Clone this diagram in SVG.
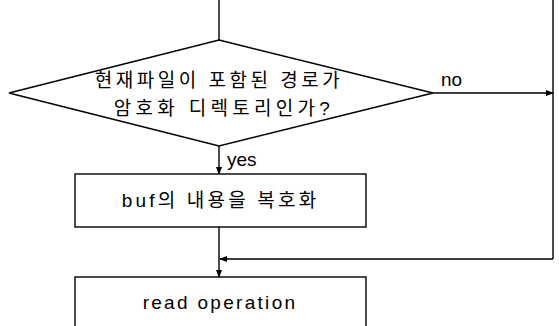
<svg xmlns="http://www.w3.org/2000/svg" width="559" height="326" viewBox="0 0 559 326">
<defs>
<marker id="ah" markerWidth="8" markerHeight="8" refX="7" refY="4" orient="auto" markerUnits="userSpaceOnUse">
<path d="M0,1 L8,4 L0,7 Z" fill="#000"/>
</marker>
<style>
.ln{stroke:#000;stroke-width:1.4;fill:none}
.sh{stroke:#000;stroke-width:1.4;fill:#fff}
.t{font-family:"Liberation Sans","Noto Sans CJK KR",sans-serif;font-size:19px;fill:#000}
</style>
</defs>
<rect width="559" height="326" fill="#fff"/>
<g id="connectors">
<line class="ln" x1="219" y1="0" x2="219" y2="40"/>
<line class="ln" x1="219" y1="146" x2="219" y2="174" marker-end="url(#ah)"/>
<line class="ln" x1="433" y1="93" x2="553" y2="93" marker-end="url(#ah)"/>
<line class="ln" x1="553" y1="0" x2="553" y2="259"/>
<line class="ln" x1="553" y1="259" x2="220" y2="259" marker-end="url(#ah)"/>
<line class="ln" x1="219" y1="227" x2="219" y2="277" marker-end="url(#ah)"/>
<text class="t" x="441" y="86">no</text>
<text class="t" x="227" y="166">yes</text>
</g>
<g id="decision">
<polygon class="sh" points="219,40 433,93 219,146 9,93"/>
<text class="t" x="219" y="87" text-anchor="middle" letter-spacing="3.5">현재파일이 포함된 경로가</text>
<text class="t" x="224" y="115" text-anchor="middle" letter-spacing="4.3">암호화 디렉토리인가?</text>
</g>
<g id="decrypt">
<rect class="sh" x="75" y="174" width="291" height="53"/>
<text class="t" x="220.5" y="207" text-anchor="middle" letter-spacing="3.2">buf의 내용을 복호화</text>
</g>
<g id="read">
<rect class="sh" x="75" y="277" width="291" height="60"/>
<text class="t" x="220" y="309" text-anchor="middle" letter-spacing="2.3">read operation</text>
</g>
</svg>
